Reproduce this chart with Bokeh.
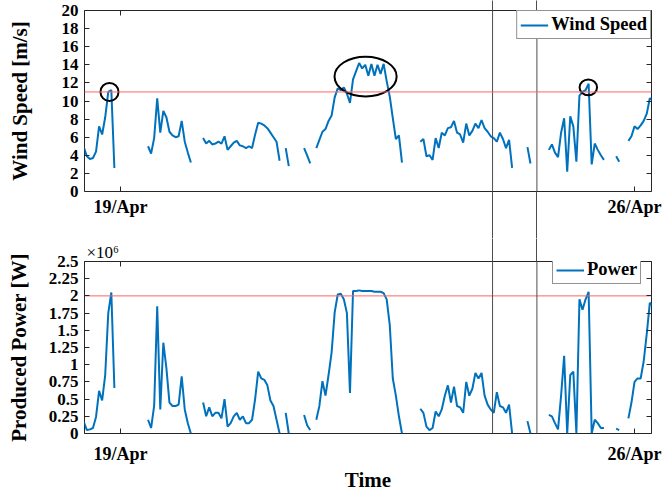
import numpy as np
import pandas as pd
from bokeh.plotting import figure
from bokeh.layouts import column
from bokeh.models import (Range1d, FixedTicker, DatetimeTickFormatter, CustomJSTickFormatter,
                          LinearAxis, DatetimeAxis, Span)
from bokeh.embed import file_html
from bokeh.resources import INLINE

N = np.nan

# ---------------- data (hourly, starting 18/Apr 12:00) ----------------
start_time = "2018-04-18 12:00"

wind_speed = [
    4.9, 3.9, 3.6, 3.7, 4.4, 7.2, 6.3, 8.2, 11.0, 11.2, 2.6,
    N, N, N, N, N, N, N, N, N, N,
    5.0, 4.2, 5.9, 10.3, 6.5, 8.9, 8.2, 6.6, 6.2, 6.0, 6.1, 7.8, 5.5, 4.3, 3.2,
    N, N, N,
    5.9, 5.3, 5.6, 5.2, 5.3, 5.5, 5.3, 6.1, 4.6, 5.0, 5.4, 5.6, 5.1,
    5.0, 4.8, 5.0, 4.8, 6.3, 7.6, 7.5, 7.3, 7.0, 6.5, 6.0, 5.5, 3.4,
    N,
    4.8, 2.8,
    N, N, N, N,
    4.8, 4.0, 3.1,
    N,
    4.8, 5.7, 6.6, 6.9, 7.8, 8.4, 10.4, 11.4, 11.2, 11.5, 10.8, 9.8, 12.4, 13.3, 14.2,
    13.6, 14.0, 12.8, 14.1, 12.8, 14.0, 13.0, 14.1, 12.2, 10.5, 8.1, 5.8, 6.2, 3.2,
    N, N, N, N, N,
    5.5, 5.8, 3.9, 4.0, 3.5, 5.9, 4.8, 6.5, 6.2, 7.0, 7.1, 7.8, 6.5, 6.3, 5.4, 7.5,
    6.2, 6.7, 7.5, 7.0, 7.9, 7.0, 6.6, 6.1, 5.9, 5.5, 6.5, 5.8, 4.8, 5.7, 2.6,
    N, N, N, N,
    4.9, 3.1,
    N, N, N, N, N,
    4.6, 5.2, 4.3, 3.8, 6.5, 8.1, 2.2, 8.3, 7.2, 3.3, 10.6, 11.0, 11.2, 11.9, 3.0,
    5.3, 4.6, 4.0, 3.5,
    N, N, N,
    3.9, 3.3,
    N, N,
    5.6, 6.1, 7.2, 6.9, 7.3, 7.8, 8.6, 10.3, 10.1,
]

# produced power in units of 10^6 W
power_mw = [
    0.17, 0.05, 0.06, 0.08, 0.24, 0.62, 0.48, 0.85, 1.75, 2.05, 0.66,
    N, N, N, N, N, N, N, N, N, N,
    0.20, 0.08, 0.40, 1.85, 0.35, 1.32, 0.95, 0.45, 0.40, 0.40, 0.42, 0.83, 0.35, 0.15, 0.0,
    N, N, N,
    0.45, 0.25, 0.38, 0.25, 0.30, 0.30, 0.22, 0.50, 0.10, 0.15, 0.25, 0.30, 0.20,
    0.25, 0.15, 0.15, 0.20, 0.50, 0.90, 0.80, 0.78, 0.70, 0.48, 0.40, 0.20, 0.0,
    N,
    0.30, 0.0,
    N, N, N, N,
    0.27, 0.12, 0.05,
    N,
    0.20, 0.40, 0.76, 0.55, 0.85, 1.18, 1.76, 2.02, 2.03, 1.95, 1.75, 0.59, 2.07, 2.07, 2.08,
    2.07, 2.07, 2.07, 2.07, 2.06, 2.06, 2.06, 2.04, 1.95, 1.58, 0.80, 0.55, 0.25, 0.0,
    N, N, N, N, N,
    0.36, 0.30, 0.10, 0.05, 0.08, 0.32, 0.25, 0.35, 0.55, 0.70, 0.45, 0.68, 0.40, 0.38, 0.30, 0.75,
    0.55, 0.65, 0.88, 0.80, 0.88, 0.55, 0.42, 0.35, 0.30, 0.60, 0.40, 0.38, 0.30, 0.42, 0.0,
    N, N, N, N,
    0.18, 0.0,
    N, N, N, N, N,
    0.27, 0.25, 0.15, 0.06, 0.55, 1.13, 0.0, 0.85, 0.90, 0.0, 1.95, 1.80, 1.95, 2.06, 0.0,
    0.20, 0.15, 0.08, 0.08,
    N, N, N,
    0.07, 0.05,
    N, N,
    0.22, 0.45, 0.75, 0.80, 0.80, 1.05, 1.45, 1.90, 1.85,
]
assert len(wind_speed) == len(power_mw)

times = pd.date_range(start_time, periods=len(wind_speed), freq="h")

rated_wind = 11.0
rated_power = 2.0
event_times = ["2018-04-24 01:36", "2018-04-24 16:06"]
x_start, x_end = "2018-04-18 12:14", "2018-04-26 05:33"
date_ticks = ["2018-04-19", "2018-04-26"]
wind_ticks = [0, 2, 4, 6, 8, 10, 12, 14, 16, 18, 20]
power_ticks = [0, 0.25, 0.5, 0.75, 1, 1.25, 1.5, 1.75, 2, 2.25, 2.5]

# highlighted peaks (centre time, centre wind, width in hours, height in m/s)
circle_times = ["2018-04-18 20:24", "2018-04-22 08:06", "2018-04-25 08:54"]
circle_wind = [11.0, 12.7, 11.5]
circle_width_h = [5.9, 20.3, 5.7]
circle_height = [2.0, 4.4, 1.75]

# ---------------- styling ----------------
SERIF = "Liberation Serif"
INK = "#262626"
BLUE = "#0072BD"
RED = "#ff6464"
EVENT = "#4d4d4d"
W = 664
FRAME_L, FRAME_R = 84, 13


def ms(t):
    return pd.Timestamp(t).value / 1e6


xr = Range1d(ms(x_start), ms(x_end))
date_fmt = DatetimeTickFormatter(days="%d/%b", months="%d/%b", hours="%d/%b", years="%d/%b")
blank_fmt = CustomJSTickFormatter(code="return '';")


def date_ticker(with_events):
    # major ticks: the dates; minor ticks: the event times, drawn as long
    # outward strokes so the event lines continue outside the frames
    return FixedTicker(ticks=[ms(t) for t in date_ticks],
                       minor_ticks=[ms(t) for t in event_times] if with_events else [])


def style_axis(ax, size, standoff, labels=True, event_len=0):
    ax.axis_line_color = None
    ax.major_tick_in = 5
    ax.major_tick_out = 0
    # negative "in" length = stroke pointing outwards without enlarging the axis
    ax.minor_tick_in = -event_len
    ax.minor_tick_out = 0
    ax.minor_tick_line_color = EVENT if event_len else None
    ax.minor_tick_line_width = 1
    ax.major_tick_line_color = INK
    ax.major_label_text_font = SERIF
    ax.major_label_text_font_style = "bold"
    ax.major_label_text_color = "black"
    if labels:
        ax.major_label_text_font_size = size
        ax.major_label_standoff = standoff
    else:
        ax.formatter = blank_fmt
        ax.major_label_text_font_size = "1px"
        ax.major_label_standoff = 0
    ax.axis_label_text_font = SERIF
    ax.axis_label_text_font_style = "bold"
    ax.axis_label_text_font_size = "21px"
    ax.axis_label_text_color = "black"


def make_fig(height, y_end, y_ticks, border_top, border_bottom,
             top_event_len, bottom_event_len, bottom_standoff, y_fmt=None):
    p = figure(width=W, height=height, x_range=xr, y_range=Range1d(0, y_end),
               x_axis_location=None, y_axis_location=None,
               output_backend="svg", toolbar_location=None,
               min_border_left=FRAME_L, min_border_right=FRAME_R,
               min_border_top=border_top, min_border_bottom=border_bottom)
    p.grid.visible = False
    p.outline_line_color = INK
    p.outline_line_width = 1
    p.background_fill_color = "white"
    p.border_fill_color = "white"
    yt = FixedTicker(ticks=y_ticks)

    ax_b = DatetimeAxis(ticker=date_ticker(bottom_event_len > 0), formatter=date_fmt)
    style_axis(ax_b, "18px", bottom_standoff, event_len=bottom_event_len)
    p.add_layout(ax_b, "below")
    ax_t = DatetimeAxis(ticker=date_ticker(top_event_len > 0))
    style_axis(ax_t, "1px", 0, labels=False, event_len=top_event_len)
    p.add_layout(ax_t, "above")
    ax_l = LinearAxis(ticker=yt)
    if y_fmt is not None:
        ax_l.formatter = y_fmt
    style_axis(ax_l, "17px", 6)
    p.add_layout(ax_l, "left")
    ax_r = LinearAxis(ticker=yt)
    style_axis(ax_r, "1px", 0, labels=False)
    p.add_layout(ax_r, "right")
    for t in event_times:
        p.add_layout(Span(location=ms(t), dimension="height", line_color=EVENT, line_width=1))
    return p, ax_b, ax_l


def style_legend(p, loc):
    lg = p.legend[0]
    lg.location = loc
    lg.margin = 0
    lg.padding = 3
    lg.spacing = 0
    lg.glyph_width = 28
    lg.glyph_height = 20
    lg.label_height = 20
    lg.label_standoff = 3
    lg.label_text_font = SERIF
    lg.label_text_font_style = "bold"
    lg.label_text_font_size = "18.5px"
    lg.label_text_color = "black"
    lg.border_line_color = INK
    lg.border_line_width = 1
    lg.background_fill_alpha = 1


# ---------------- top: wind speed ----------------
TOP_H = 238
top, top_x, top_y = make_fig(TOP_H, 20, wind_ticks, 10, 47,
                             top_event_len=10, bottom_event_len=47, bottom_standoff=5)
top_y.axis_label = "Wind Speed [m/s]"
top_y.axis_label_standoff = 27
top.line(times, wind_speed, line_color=BLUE, line_width=2, legend_label="Wind Speed")
top.ellipse(x=[pd.Timestamp(t) for t in circle_times], y=circle_wind,
            width=[w * 3600 * 1000 for w in circle_width_h], height=circle_height,
            fill_color=None, line_color="black", line_width=2)
style_legend(top, "top_right")
top.add_layout(Span(location=rated_wind, dimension="width", line_color=RED,
                    line_width=1, level="overlay"))

# ---------------- bottom: power ----------------
BOT_H = 256
bot, bot_x, bot_y = make_fig(BOT_H, 2.5, power_ticks, 23, 55,
                             top_event_len=23, bottom_event_len=0, bottom_standoff=10,
                             y_fmt=CustomJSTickFormatter(code="return String(tick);"))
bot_x.axis_label = "Time"
bot_x.axis_label_standoff = 1
bot_y.axis_label = "Produced Power [W]"
bot_y.axis_label_standoff = 15
bot.line(times, power_mw, line_color=BLUE, line_width=2, legend_label="Power")
bot.line(x=[xr.start, xr.end], y=[rated_power, rated_power], line_color=RED, line_width=1)
style_legend(bot, (468, 149))
# exponent of the power axis, shown above its top-left corner
bot.title.text = "\u00d710\u2076"
bot.title.align = "left"
bot.title.offset = 2
bot.title.standoff = 0
bot.title.text_font = SERIF
bot.title.text_font_style = "normal"
bot.title.text_font_size = "17px"
bot.title.text_color = "black"

layout = column(top, bot, spacing=0)
open("out.html", "w").write(file_html(layout, INLINE))
